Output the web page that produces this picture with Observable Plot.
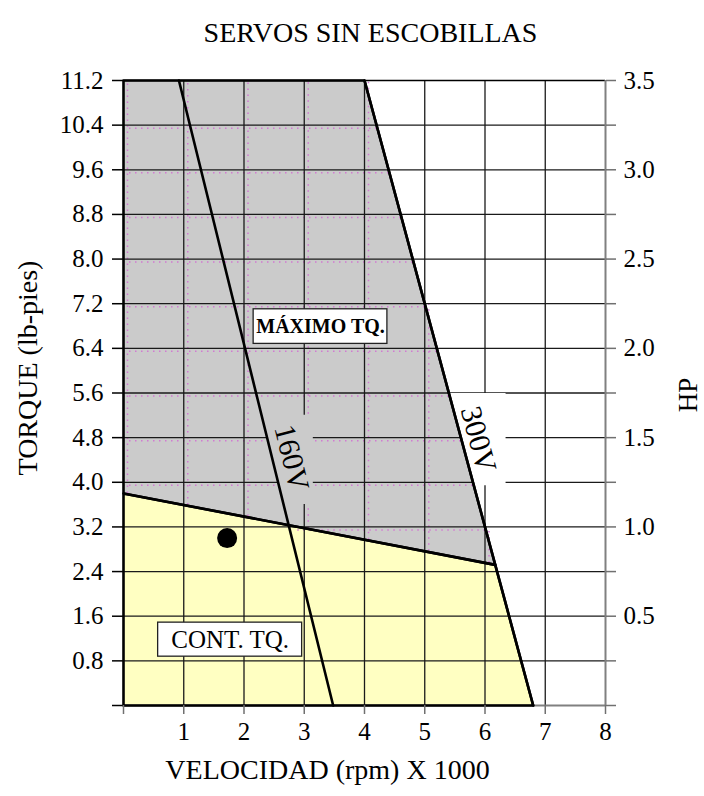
<!DOCTYPE html>
<html><head><meta charset="utf-8">
<script src="https://cdn.jsdelivr.net/npm/d3@7"></script>
<script src="https://cdn.jsdelivr.net/npm/@observablehq/plot@0.6"></script>
<style>html,body{margin:0;padding:0;background:#fff;}</style>
</head><body><div id="chart"></div>
<script>
// ---- text ----
const title = "SERVOS SIN ESCOBILLAS";
const xLabel = "VELOCIDAD (rpm) X 1000";
const yLabel = "TORQUE (lb-pies)";
const y2Label = "HP";
// ---- ticks ----
const speedTicks = [0, 1, 2, 3, 4, 5, 6, 7, 8];
const torqueTicks = [0, 0.8, 1.6, 2.4, 3.2, 4.0, 4.8, 5.6, 6.4, 7.2, 8.0, 8.8, 9.6, 10.4, 11.2];
const hpTicks = [0.5, 1.0, 1.5, 2.0, 2.5, 3.0, 3.5];
const hpMax = 3.5, torqueMax = 11.2, speedMax = 8;
// ---- curves (speed x1000 rpm, torque lb-ft) ----
const v300Speed = [4.0, 6.8],  v300Torque = [11.2, 0];
const v160Speed = [0.92, 3.48], v160Torque = [11.2, 0];
const contSpeed = [0, 6.17],   contTorque = [3.8, 2.52];
const peakZoneSpeed = [0, 4.0, 6.17, 0, 0],  peakZoneTorque = [11.2, 11.2, 2.52, 3.8, 11.2];
const contZoneSpeed = [0, 6.8, 6.17, 0, 0],  contZoneTorque = [0, 0, 2.52, 3.8, 0];
const pointSpeed = [1.72], pointTorque = [3.0];
// ---- annotations ----
const zoneText = ["MÁXIMO TQ.", "CONT. TQ."];
const zoneSpeed = [3.27, 1.77], zoneTorque = [6.79, 1.18];
const voltText = ["160V", "300V"];
const voltSpeed = [2.79, 5.89], voltTorque = [4.44, 4.77];

const pts = (xs, ys) => xs.map((x, i) => ({x, y: ys[i]}));
const xOn = (xs, ys, t) => xs[0] + (t - ys[0]) * (xs[1] - xs[0]) / (ys[1] - ys[0]);
const yOn = (xs, ys, s) => ys[0] + (s - xs[0]) * (ys[1] - ys[0]) / (xs[1] - xs[0]);

// halftone-like dotted lines inside the peak zone
const dotV = speedTicks.filter(s => s <= 6).map(s => ({
  x: s, y1: yOn(contSpeed, contTorque, s), y2: s <= v300Speed[0] ? torqueMax : yOn(v300Speed, v300Torque, s)
}));
const dotH = torqueTicks.filter(t => t >= 3.2 && t < torqueMax).map(t => ({
  y: t, x1: t >= contTorque[0] ? 0 : xOn(contSpeed, contTorque, t), x2: xOn(v300Speed, v300Torque, t)
}));
// label backing patches
const mask160 = [3.6, 5.2].map(t => ({y: t, x1: xOn(v160Speed, v160Torque, t), x2: 3.15}));
const mask300 = [3.94, 5.59].map(t => ({y: t, x1: xOn(v300Speed, v300Torque, t), x2: 6.35}));

const zones = zoneText.map((text, i) => ({text, x: zoneSpeed[i], y: zoneTorque[i]}));
const boxHalf = [[1.11, 0.31], [1.195, 0.305]];
const volts = voltText.map((text, i) => ({text, x: voltSpeed[i], y: voltTorque[i]}));

const F = "Liberation Serif, Times New Roman, serif";
const chart = Plot.plot({
  width: 704, height: 796,
  marginLeft: 123, marginRight: 99, marginTop: 80, marginBottom: 91,
  x: {domain: [0, speedMax]},
  y: {domain: [0, torqueMax]},
  style: {fontFamily: F, fontSize: "25px", background: "#fff", color: "#000"},
  marks: [
    Plot.line(pts(peakZoneSpeed, peakZoneTorque), {x: "x", y: "y", fill: "#cbcbcb", stroke: "none"}),
    Plot.line(pts(contZoneSpeed, contZoneTorque), {x: "x", y: "y", fill: "#ffffc2", stroke: "none"}),
    Plot.ruleX(dotV, {x: "x", y1: "y1", y2: "y2", dx: 4, stroke: "#d27ad2", strokeWidth: 1.5, strokeDasharray: "1.5 4.5"}),
    Plot.ruleY(dotH, {y: "y", x1: "x1", x2: "x2", dy: 3, stroke: "#d27ad2", strokeWidth: 1.5, strokeDasharray: "1.5 4.5"}),
    // grid
    Plot.ruleX(speedTicks.filter(s => s > 0 && s < speedMax), {y1: 0, y2: torqueMax, stroke: "#1a1a1a", strokeWidth: 1.3}),
    Plot.ruleY(torqueTicks.filter(t => t > 0 && t < torqueMax), {x1: 0, x2: speedMax, stroke: "#1a1a1a", strokeWidth: 1.3}),
    Plot.ruleY([torqueMax], {x1: 0, x2: speedMax, stroke: "#000", strokeWidth: 1.6}),
    // frame (gray right edge and bottom)
    Plot.ruleX([speedMax], {y1: 0, y2: torqueMax, stroke: "#808080", strokeWidth: 2}),
    Plot.ruleY([0], {x1: 0, x2: speedMax, stroke: "#808080", strokeWidth: 2}),
    // label backings
    Plot.areaX(mask160, {y: "y", x1: "x1", x2: "x2", fill: "#cbcbcb"}),
    Plot.areaX(mask300, {y: "y", x1: "x1", x2: "x2", fill: "#fff"}),
    // zone outlines and voltage lines
    Plot.line(pts(peakZoneSpeed, peakZoneTorque), {x: "x", y: "y", stroke: "#000", strokeWidth: 2.6}),
    Plot.line(pts(contZoneSpeed, contZoneTorque), {x: "x", y: "y", stroke: "#000", strokeWidth: 2.6}),
    Plot.line(pts(v300Speed, v300Torque), {x: "x", y: "y", stroke: "#000", strokeWidth: 2.6}),
    Plot.line(pts(v160Speed, v160Torque), {x: "x", y: "y", stroke: "#000", strokeWidth: 2.6}),
    // zone label boxes
    Plot.rect(zones, {x1: (d, i) => d.x - boxHalf[i][0], x2: (d, i) => d.x + boxHalf[i][0],
                      y1: (d, i) => d.y - boxHalf[i][1], y2: (d, i) => d.y + boxHalf[i][1],
                      fill: "#fff", stroke: "#222", strokeWidth: 1.3}),
    Plot.text(zones.slice(0, 1), {x: "x", y: "y", text: "text", fontSize: 20, fontWeight: "bold", fill: "#000"}),
    Plot.text(zones.slice(1), {x: "x", y: "y", text: "text", fontSize: 25, fill: "#000"}),
    Plot.text(volts.slice(0, 1), {x: "x", y: "y", text: "text", rotate: 76, fontSize: 30, fill: "#000"}),
    Plot.text(volts.slice(1), {x: "x", y: "y", text: "text", rotate: 75, fontSize: 30, fill: "#000"}),
    // operating point
    Plot.dot(pts(pointSpeed, pointTorque), {x: "x", y: "y", r: 10, fill: "#000", stroke: "none"}),
    // axes
    Plot.axisY(torqueTicks, {anchor: "left", tickSize: 11, tickPadding: 9, strokeWidth: 1.5,
      tickFormat: d => d === 0 ? "" : d.toFixed(1), fontSize: 25, label: null}),
    Plot.axisY(torqueTicks, {anchor: "right", tickSize: 10, tickFormat: () => "", stroke: "#707070", strokeWidth: 1.5, label: null}),
    Plot.axisY(hpTicks.map(h => h * torqueMax / hpMax), {anchor: "right", tickSize: 0, tickPadding: 18,
      tickFormat: d => (d * hpMax / torqueMax).toFixed(1), fontSize: 25, label: null}),
    Plot.axisX(speedTicks, {tickSize: 9, tickFormat: () => "", stroke: "#707070", strokeWidth: 1.5, label: null}),
    Plot.axisX(speedTicks, {tickSize: 0, tickPadding: 17, tickFormat: d => d === 0 ? "" : String(d), fontSize: 25, label: null}),
    // titles
    Plot.text([title], {frameAnchor: "top", dx: 6, dy: -58, fontSize: 28, fill: "#000"}),
    Plot.text([xLabel], {frameAnchor: "bottom", dx: -37, dy: 73, fontSize: 28, fill: "#000"}),
    Plot.text([yLabel], {frameAnchor: "left", textAnchor: "middle", dx: -95, dy: -25, rotate: -90, fontSize: 28, fill: "#000"}),
    Plot.text([y2Label], {frameAnchor: "right", textAnchor: "middle", dx: 83, dy: 2, rotate: -90, fontSize: 27, fill: "#000"})
  ]
});
document.getElementById("chart").appendChild(chart);
</script>
</body></html>
